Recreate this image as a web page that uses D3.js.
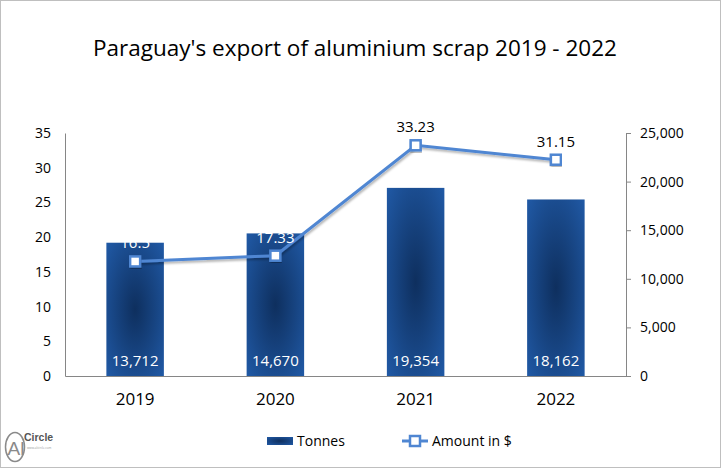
<!DOCTYPE html>
<html>
<head>
<meta charset="utf-8">
<script src="https://cdn.jsdelivr.net/npm/d3@7"></script>
<style>
  body { margin: 0; background: #fff; }
  svg { display: block; font-family: "Open Sans", "Noto Sans", sans-serif; }
</style>
</head>
<body>
<div id="chart"></div>
<script>
const years = ["2019", "2020", "2021", "2022"];
const tonnes = [13712, 14670, 19354, 18162];
const amounts = [16.5, 17.33, 33.23, 31.15];
const leftTicks = [0, 5, 10, 15, 20, 25, 30, 35];
const rightTicks = [0, 5000, 10000, 15000, 20000, 25000];

const W = 721, H = 468;
const margin = {top: 133, right: 95, bottom: 92, left: 65};
const width = W - margin.left - margin.right,
      height = H - margin.top - margin.bottom;

const svg = d3.select("#chart").append("svg")
    .attr("width", W)
    .attr("height", H);

const defs = svg.append("defs");
const grad = defs.append("radialGradient")
    .attr("id", "barGrad")
    .attr("cx", "50%").attr("cy", "50%").attr("r", "70%");
grad.append("stop").attr("offset", "0%").attr("stop-color", "#0e2f5e");
grad.append("stop").attr("offset", "100%").attr("stop-color", "#2059a5");

const shadow = defs.append("filter").attr("id", "shadow")
    .attr("x", "-10%").attr("y", "-10%").attr("width", "120%").attr("height", "130%");
shadow.append("feDropShadow")
    .attr("dx", 1).attr("dy", 2).attr("stdDeviation", 1.2)
    .attr("flood-color", "#000").attr("flood-opacity", 0.3);

// frame
svg.append("rect")
    .attr("x", 0.5).attr("y", 0.5)
    .attr("width", W - 1).attr("height", H - 1)
    .attr("fill", "none").attr("stroke", "#bfbfbf");

svg.append("text")
    .attr("x", 355).attr("y", 56)
    .attr("text-anchor", "middle")
    .attr("font-size", 22.5)
    .attr("fill", "#000")
    .text("Paraguay's export of aluminium scrap 2019 - 2022");

const g = svg.append("g")
    .attr("transform", `translate(${margin.left},${margin.top})`);

const x = d3.scaleBand()
    .domain(years)
    .range([0, width])
    .paddingInner(0.59)
    .paddingOuter(0.295);

const yLeft = d3.scaleLinear().domain([0, 35]).range([height, 0]);
const yRight = d3.scaleLinear().domain([0, 25000]).range([height, 0]);

// left axis
const la = g.append("g")
    .call(d3.axisLeft(yLeft).tickValues(leftTicks).tickSize(0).tickPadding(14));
la.select(".domain").attr("stroke", "#868686");
la.selectAll("text").attr("font-size", 14).attr("fill", "#000")
    .attr("font-family", "Open Sans, sans-serif");

// right axis
const ra = g.append("g")
    .attr("transform", `translate(${width},0)`)
    .call(d3.axisRight(yRight).tickValues(rightTicks).tickSize(5).tickSizeOuter(5).tickPadding(9)
        .tickFormat(d3.format(",")));
ra.select(".domain").attr("stroke", "#868686");
ra.selectAll("line").attr("stroke", "#868686");
ra.selectAll("text").attr("font-size", 14).attr("fill", "#000")
    .attr("font-family", "Open Sans, sans-serif");

// bars
g.selectAll(".bar")
    .data(years)
    .join("rect")
    .attr("class", "bar")
    .attr("x", d => x(d))
    .attr("y", (d, i) => yRight(tonnes[i]))
    .attr("width", x.bandwidth())
    .attr("height", (d, i) => height - yRight(tonnes[i]))
    .attr("fill", "url(#barGrad)");

// bottom axis
const ba = g.append("g")
    .attr("transform", `translate(0,${height})`)
    .call(d3.axisBottom(x).tickSize(0).tickPadding(17));
ba.select(".domain").attr("stroke", "#868686");
ba.selectAll("text").attr("font-size", 17).attr("fill", "#000")
    .attr("font-family", "Open Sans, sans-serif");

// bar labels
g.selectAll(".blabel")
    .data(years)
    .join("text")
    .attr("class", "blabel")
    .attr("x", d => x(d) + x.bandwidth() / 2)
    .attr("y", height - 10)
    .attr("text-anchor", "middle")
    .attr("font-size", 15)
    .attr("fill", "#fff")
    .text((d, i) => d3.format(",")(tonnes[i]));

// line
const line = d3.line()
    .x((d, i) => x(years[i]) + x.bandwidth() / 2)
    .y(d => yLeft(d));

g.append("path")
    .datum(amounts)
    .attr("fill", "none")
    .attr("stroke", "#4f86d2")
    .attr("stroke-width", 3)
    .attr("filter", "url(#shadow)")
    .attr("d", line);

g.selectAll(".pt")
    .data(amounts)
    .join("rect")
    .attr("class", "pt")
    .attr("x", (d, i) => x(years[i]) + x.bandwidth() / 2 - 5)
    .attr("y", d => yLeft(d) - 5)
    .attr("width", 10)
    .attr("height", 10)
    .attr("fill", "#fff")
    .attr("stroke", "#4f86d2")
    .attr("stroke-width", 2.5)
    .attr("filter", "url(#shadow)");

g.selectAll(".llabel")
    .data(amounts)
    .join("text")
    .attr("class", "llabel")
    .attr("x", (d, i) => x(years[i]) + x.bandwidth() / 2)
    .attr("y", d => yLeft(d) - 13)
    .attr("text-anchor", "middle")
    .attr("font-size", 15)
    .attr("fill", (d, i) => i < 2 ? "#fff" : "#000")
    .text(d => d);

// legend
const lg = svg.append("g").attr("transform", "translate(0,441)");
lg.append("rect")
    .attr("x", 267).attr("y", -4).attr("width", 26).attr("height", 8)
    .attr("fill", "url(#barGrad)");
lg.append("text")
    .attr("x", 297).attr("y", 5).attr("font-size", 14).text("Tonnes");
lg.append("line")
    .attr("x1", 402).attr("x2", 428).attr("y1", 0).attr("y2", 0)
    .attr("stroke", "#4f86d2").attr("stroke-width", 3);
lg.append("rect")
    .attr("x", 410).attr("y", -5).attr("width", 10).attr("height", 10)
    .attr("fill", "#fff").attr("stroke", "#4f86d2").attr("stroke-width", 2.5);
lg.append("text")
    .attr("x", 432).attr("y", 5).attr("font-size", 14).text("Amount in $");

// logo
const logo = svg.append("g").attr("transform", "translate(3,431)");
logo.append("ellipse")
    .attr("cx", 12).attr("cy", 16).attr("rx", 9.5).attr("ry", 14.5)
    .attr("fill", "none").attr("stroke", "#8a8a8a").attr("stroke-width", 1.5);
logo.append("text")
    .attr("x", 13).attr("y", 24).attr("text-anchor", "middle")
    .attr("font-size", 19).attr("fill", "#8a8a8a")
    .attr("font-family", "Liberation Sans Narrow, Liberation Sans, sans-serif").text("Al");
logo.append("text")
    .attr("x", 21).attr("y", 10)
    .attr("font-size", 10.5).attr("font-weight", "bold").attr("fill", "#555")
    .attr("font-family", "Liberation Sans Narrow, Liberation Sans, sans-serif").text("Circle");
logo.append("text")
    .attr("x", 24).attr("y", 18)
    .attr("font-size", 3).attr("fill", "#999").text("www.alcircle.com");
</script>
</body>
</html>
